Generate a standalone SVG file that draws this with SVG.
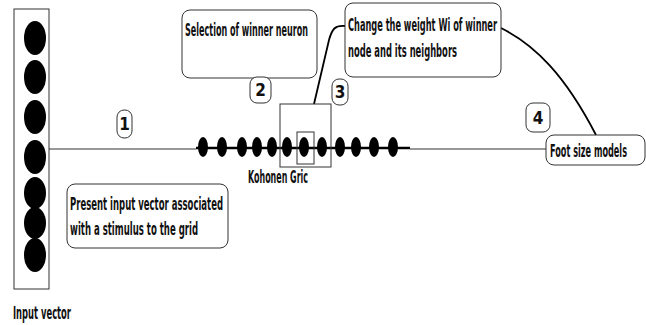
<svg xmlns="http://www.w3.org/2000/svg" width="646" height="325" viewBox="0 0 646 325">
<style>
.box{fill:#fff;stroke:#333;stroke-width:1}
.sq{fill:none;stroke:#333;stroke-width:1}
.t{font-family:"Liberation Sans Narrow","DejaVu Sans Condensed","DejaVu Sans",sans-serif;font-weight:bold;font-size:17px;fill:#111}
.dot{fill:#000}
.ln{stroke:#333;stroke-width:1.2;fill:none}
.thick{stroke:#000;stroke-width:2.5;fill:none}
.cur{stroke:#000;stroke-width:1.8;fill:none}
</style>
<rect width="646" height="325" fill="#fff"/>
<g id="connectors">
<line class="ln" x1="49" y1="149" x2="196" y2="149"/>
<line class="thick" x1="196" y1="148" x2="410" y2="148"/>
<line class="ln" x1="410" y1="149" x2="547" y2="149"/>
<path class="cur" d="M345,26 C335,25 332,29 329,40 L314,104"/>
<path class="cur" d="M501,28 C535,45 565,75 596,135"/>
</g>
<g id="input-vector">
<rect class="sq" x="14" y="9" width="35" height="280"/>
<ellipse class="dot" cx="35" cy="38" rx="11" ry="17"/>
<ellipse class="dot" cx="35" cy="77" rx="11" ry="17"/>
<ellipse class="dot" cx="35" cy="117" rx="11" ry="17"/>
<ellipse class="dot" cx="35" cy="157" rx="11" ry="17"/>
<ellipse class="dot" cx="35" cy="193" rx="11" ry="16"/>
<ellipse class="dot" cx="35" cy="223" rx="11" ry="16"/>
<ellipse class="dot" cx="35" cy="255" rx="11" ry="17"/>
<text class="t" x="13" y="319" textLength="58" lengthAdjust="spacingAndGlyphs">Input vector</text>
</g>
<g id="kohonen-grid">
<ellipse class="dot" cx="203" cy="147" rx="5" ry="10"/>
<ellipse class="dot" cx="222" cy="147" rx="5" ry="10"/>
<ellipse class="dot" cx="242" cy="147" rx="5" ry="10"/>
<ellipse class="dot" cx="257" cy="147" rx="5" ry="10"/>
<ellipse class="dot" cx="272" cy="147" rx="5" ry="10"/>
<ellipse class="dot" cx="287" cy="147" rx="5" ry="10"/>
<ellipse class="dot" cx="304" cy="147" rx="5" ry="10"/>
<ellipse class="dot" cx="322" cy="147" rx="5" ry="10"/>
<ellipse class="dot" cx="340" cy="147" rx="5" ry="10"/>
<ellipse class="dot" cx="356" cy="147" rx="5" ry="10"/>
<ellipse class="dot" cx="374" cy="147" rx="5" ry="10"/>
<ellipse class="dot" cx="393" cy="147" rx="5" ry="10"/>
<rect class="sq" x="280" y="104" width="51" height="63"/>
<rect class="sq" x="297" y="132" width="17" height="32"/>
<text class="t" x="248" y="183" textLength="60" lengthAdjust="spacingAndGlyphs">Kohonen Gric</text>
</g>
<g id="selection">
<rect class="box" x="182" y="10" width="135" height="68" rx="8"/>
<text class="t" x="185" y="36" textLength="123" lengthAdjust="spacingAndGlyphs">Selection of winner neuron</text>
</g>
<g id="change-weight">
<rect class="box" x="345" y="3" width="156" height="74" rx="8"/>
<text class="t" x="348" y="31" textLength="149" lengthAdjust="spacingAndGlyphs">Change the weight Wi of winner</text>
<text class="t" x="348" y="57" textLength="109" lengthAdjust="spacingAndGlyphs">node and its neighbors</text>
</g>
<g id="present-input">
<rect class="box" x="67" y="184" width="161" height="64" rx="8"/>
<text class="t" x="70" y="210" textLength="153" lengthAdjust="spacingAndGlyphs">Present input vector associated</text>
<text class="t" x="70" y="235" textLength="128" lengthAdjust="spacingAndGlyphs">with a stimulus to the grid</text>
</g>
<g id="foot-size">
<rect class="box" x="546" y="135" width="99" height="30" rx="8"/>
<text class="t" x="550" y="157" textLength="77" lengthAdjust="spacingAndGlyphs">Foot size models</text>
</g>
<g id="step1">
<rect class="box" x="117" y="110" width="15" height="28" rx="7"/>
<text class="t" x="124.5" y="130" text-anchor="middle">1</text>
</g>
<g id="step2">
<rect class="box" x="250" y="77" width="21" height="26" rx="7"/>
<text class="t" x="260.5" y="96" text-anchor="middle">2</text>
</g>
<g id="step3">
<rect class="box" x="332" y="79" width="16" height="26" rx="7"/>
<text class="t" x="340" y="98" text-anchor="middle">3</text>
</g>
<g id="step4">
<rect class="box" x="526" y="103" width="24" height="29" rx="7"/>
<text class="t" x="538" y="124" text-anchor="middle">4</text>
</g>
</svg>
